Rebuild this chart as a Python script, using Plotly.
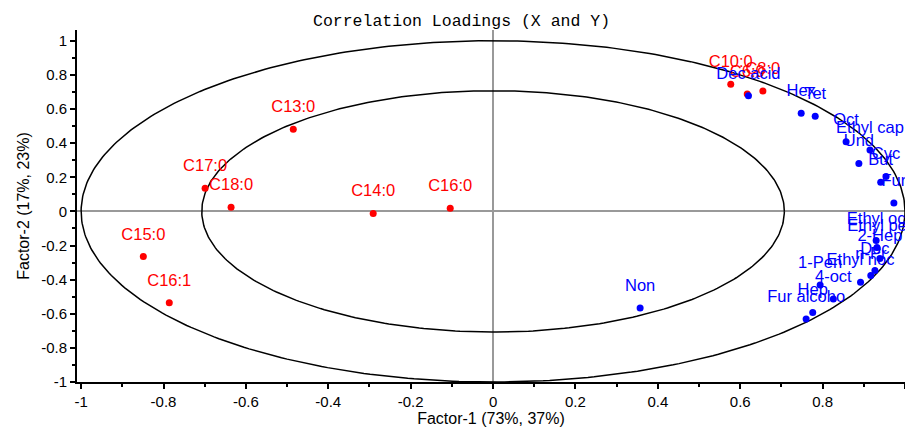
import numpy as np
import plotly.graph_objects as go

# ---- data ----
x_var_labels = ["C13:0", "C17:0", "C18:0", "C14:0", "C16:0", "C15:0", "C16:1", "C10:0", "C6:0", "C8:0"]
x_var_f1 = [-0.485, -0.699, -0.636, -0.291, -0.104, -0.849, -0.786, 0.577, 0.617, 0.655]
x_var_f2 = [0.482, 0.135, 0.024, -0.012, 0.018, -0.265, -0.535, 0.745, 0.688, 0.706]

y_var_labels = ["Dec acid", "Hex", "Tet", "Oct", "Ethyl cap", "Und", "But", "Cyc", "Fur",
                "Ethyl oc", "Ethyl pe", "2-Hep", "Dec", "n-Pr", "Ethyl noc", "1-Pen",
                "4-oct", "Hep", "Fur alcoho", "Non"]
y_var_f1 = [0.620, 0.748, 0.782, 0.857, 0.915, 0.888, 0.941, 0.954, 0.973,
            0.930, 0.932, 0.939, 0.927, 0.917, 0.892, 0.794,
            0.826, 0.776, 0.760, 0.357]
y_var_f2 = [0.678, 0.575, 0.557, 0.408, 0.359, 0.281, 0.170, 0.205, 0.049,
            -0.171, -0.212, -0.276, -0.347, -0.376, -0.416, -0.431,
            -0.514, -0.592, -0.631, -0.567]

circle_radii = [1.0, 0.7071]

x_tick_vals = [-1, -0.8, -0.6, -0.4, -0.2, 0, 0.2, 0.4, 0.6, 0.8, 1]
x_tick_text = ["-1", "-0.8", "-0.6", "-0.4", "-0.2", "0", "0.2", "0.4", "0.6", "0.8", "1"]
y_tick_vals = [-1, -0.8, -0.6, -0.4, -0.2, 0, 0.2, 0.4, 0.6, 0.8, 1]
y_tick_text = ["-1", "-0.8", "-0.6", "-0.4", "-0.2", "0", "0.2", "0.4", "0.6", "0.8", "1"]

title_text = "Correlation Loadings (X and Y)"
x_title = "Factor-1 (73%, 37%)"
y_title = "Factor-2 (17%, 23%)"

# ---- figure ----
fig = go.Figure()

theta = np.linspace(0, 2 * np.pi, 400)
for r in circle_radii:
    fig.add_trace(go.Scatter(x=r * np.cos(theta), y=r * np.sin(theta), mode="lines",
                             line=dict(color="black", width=1.5), hoverinfo="skip",
                             showlegend=False))

label_font = dict(family="Liberation Sans, Arial, sans-serif", size=16.5)


def add_group(xs, ys, labels, color):
    # visible dots
    fig.add_trace(go.Scatter(x=xs, y=ys, mode="markers",
                             marker=dict(color=color, size=7),
                             cliponaxis=False, showlegend=False))
    # labels (transparent larger marker sets the label offset above the dot)
    fig.add_trace(go.Scatter(x=xs, y=ys, text=labels, mode="markers+text",
                             textposition="top center",
                             marker=dict(color="rgba(0,0,0,0)", size=19),
                             textfont=dict(color=color, **label_font),
                             hoverinfo="skip", cliponaxis=False, showlegend=False))


add_group(x_var_f1, x_var_f2, x_var_labels, "#FF0000")
add_group(y_var_f1, y_var_f2, y_var_labels, "#0000FF")

axis_common = dict(showline=True, linecolor="black", linewidth=2, ticks="outside",
                   ticklen=5, tickwidth=1.5, tickcolor="black", showgrid=False,
                   zeroline=True, zerolinecolor="#999999", zerolinewidth=2,
                   tickfont=dict(family="Liberation Sans, Arial, sans-serif", size=15, color="black"),
                   minor=dict(ticks="outside", ticklen=3, tickwidth=1.5, tickcolor="black",
                              dtick=0.1, showgrid=False))

fig.update_layout(
    width=905, height=428,
    margin=dict(l=77, r=0, t=30, b=46),
    paper_bgcolor="white", plot_bgcolor="white",
    title=dict(text=title_text, x=0.51, xref="container", xanchor="center",
               y=0.952, yref="container", yanchor="middle",
               font=dict(family="Liberation Mono, Courier New, monospace", size=16.5, color="black")),
    xaxis=dict(range=[-1.01, 1.0], tickvals=x_tick_vals, ticktext=x_tick_text,
               title=dict(text=x_title, standoff=4,
                          font=dict(family="Liberation Sans, Arial, sans-serif", size=16, color="black")),
               **axis_common),
    yaxis=dict(range=[-1.0, 1.063], tickvals=y_tick_vals, ticktext=y_tick_text,
               title=dict(text=y_title, standoff=8,
                          font=dict(family="Liberation Sans, Arial, sans-serif", size=16, color="black")),
               **axis_common),
)

fig.write_html("out.html")
